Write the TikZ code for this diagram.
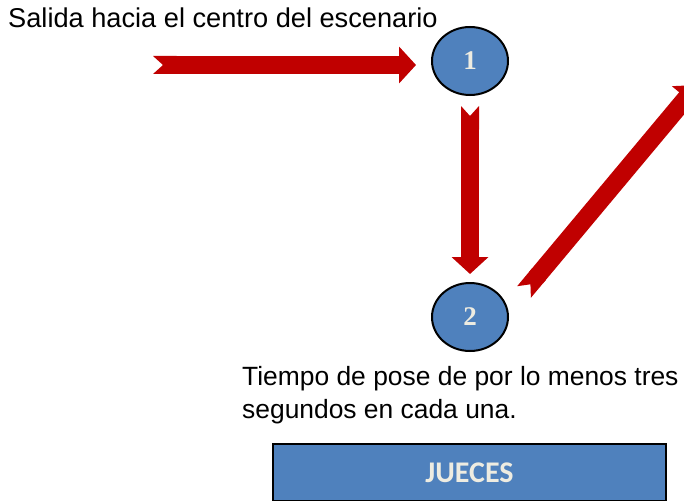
\documentclass[tikz,border=0pt]{standalone}
\usepackage{xcolor}
\usepackage{tikz}
\usepackage{fontspec}
\setmainfont{Liberation Sans}
\newfontfamily\numfont{Liberation Serif}
\newfontfamily\boxfont{Carlito}
\usetikzlibrary{shapes.geometric,arrows.meta}
\definecolor{posered}{RGB}{192,0,0}
\definecolor{poseblue}{RGB}{79,129,189}
\definecolor{posecream}{RGB}{238,236,225}

\begin{document}
\begin{tikzpicture}[x=1pt,y=-1pt,
    stage/.style={draw, ellipse, line width=2pt, fill=poseblue, minimum width=76pt, minimum height=68pt, inner sep=0pt, text=posecream, font=\numfont\bfseries\fontsize{27}{27}\selectfont},
    walk/.style={draw=posered, line width=18pt, {Triangle Cap[reversed, length=10pt]}-{Triangle[width=36pt,length=17pt]}},
    note/.style={inner sep=0pt, font=\fontsize{26.4}{33}\selectfont}]
    \useasboundingbox (0,0) rectangle (684,500);

    % Stages
    \node[stage] (n1) at (470,61) {1};
    \node[stage] (n2) at (470,317) {2};

    % Free ends
    \coordinate (c0) at (153,65);
    \coordinate (c2) at (524,292);
    \coordinate (c3) at (697,85);

    % Labels
    \node[note, anchor=base west, font=\fontsize{27.2}{33}\selectfont] (t1) at (8,28) {Salida hacia el centro del escenario};
    \node[note, anchor=north west, align=left] (t2) at (242,366) {Tiempo de pose de por lo menos tres\\segundos en cada una.};

    % Judges
    \node[draw, line width=1.5pt, fill=poseblue, minimum width=393pt, minimum height=57pt, text=posecream, font=\boxfont\bfseries\fontsize{30}{30}\selectfont] (jueces) at (469.5,472.5) {JUECES};

    % Arrows
    \draw[walk, shorten >=15pt] (c0) -- (c0 -| n1.west);
    \draw[walk, shorten <=10pt, shorten >=8pt] (n1) -- (n2);
    \draw[walk] (c2) -- (c3);
\end{tikzpicture}
\end{document}
